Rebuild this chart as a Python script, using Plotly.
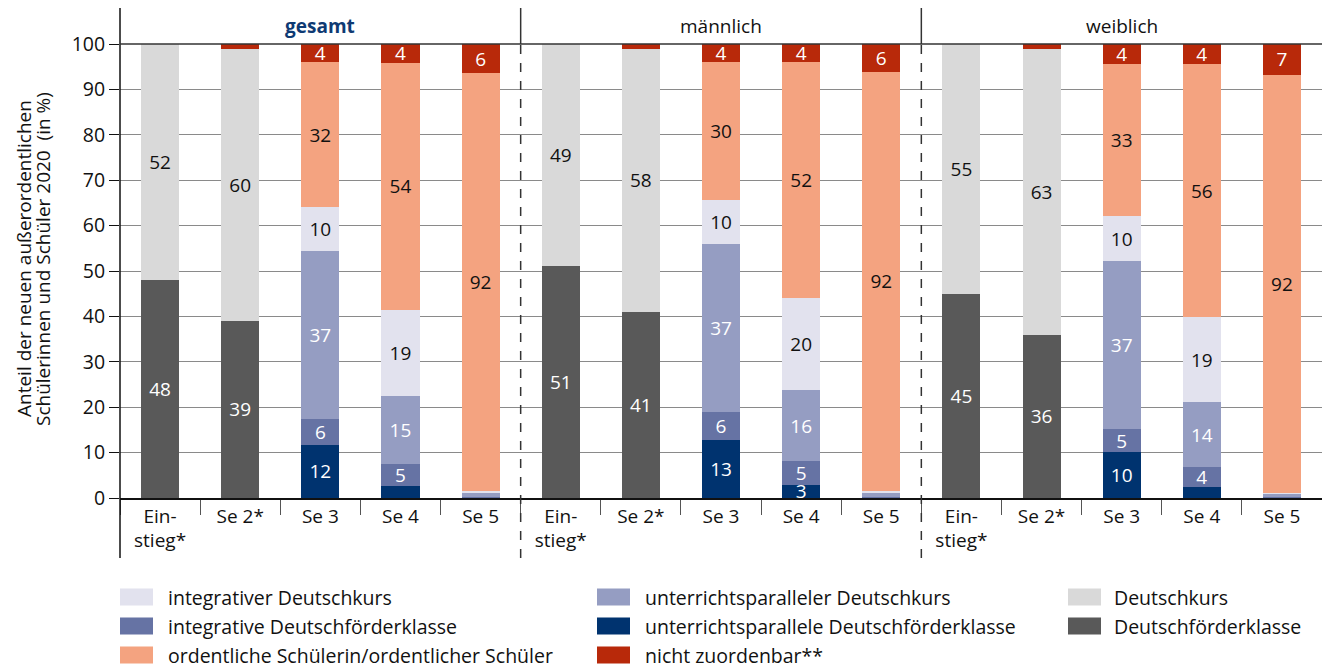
import plotly.graph_objects as go
from plotly.subplots import make_subplots

FONT = "Open Sans"

categories = ["Ein-<br>stieg*", "Se 2*", "Se 3", "Se 4", "Se 5"]
panels = ["gesamt", "männlich", "weiblich"]

# values in % for [gesamt, männlich, weiblich], per category
deutschfoerderklasse = [[48, 39, None, None, None], [51, 41, None, None, None], [45, 36, None, None, None]]
deutschkurs = [[52, 60, None, None, None], [49, 58, None, None, None], [55, 63, None, None, None]]
up_dfk = [[None, None, 11.7, 2.6, 0.1], [None, None, 12.8, 2.9, 0.1], [None, None, 10.1, 2.4, 0.1]]
int_dfk = [[None, None, 5.6, 4.9, 0.1], [None, None, 6.1, 5.2, 0.2], [None, None, 5.1, 4.4, 0.1]]
up_dk = [[None, None, 37.1, 15.0, 1.0], [None, None, 37.0, 15.7, 1.0], [None, None, 36.9, 14.3, 0.7]]
int_dk = [[None, None, 9.7, 19.0, 0.3], [None, None, 9.7, 20.2, 0.3], [None, None, 10.1, 18.7, 0.3]]
ordentlich = [[None, None, 31.9, 54.4, 92.1], [None, None, 30.4, 52.0, 92.3], [None, None, 33.4, 55.8, 92.0]]
nicht_zuordenbar = [[None, 1, 4.0, 4.1, 6.4], [None, 1, 4.0, 4.0, 6.1], [None, 1, 4.4, 4.4, 6.8]]

# stacking order bottom -> top
series = [
    ("Deutschförderklasse", deutschfoerderklasse, "#595959", "white"),
    ("Deutschkurs", deutschkurs, "#d9d9d9", "#111111"),
    ("unterrichtsparallele Deutschförderklasse", up_dfk, "#00336f", "white"),
    ("integrative Deutschförderklasse", int_dfk, "#6673a4", "white"),
    ("unterrichtsparalleler Deutschkurs", up_dk, "#959dc2", "white"),
    ("integrativer Deutschkurs", int_dk, "#e2e2ee", "#111111"),
    ("ordentliche Schülerin/ordentlicher Schüler", ordentlich, "#f4a380", "#111111"),
    ("nicht zuordenbar**", nicht_zuordenbar, "#b8290a", "white"),
]

# legend layout (rows x columns, as in the reference)
legend_rows = [
    ["integrativer Deutschkurs", "unterrichtsparalleler Deutschkurs", "Deutschkurs"],
    ["integrative Deutschförderklasse", "unterrichtsparallele Deutschförderklasse", "Deutschförderklasse"],
    ["ordentliche Schülerin/ordentlicher Schüler", "nicht zuordenbar**"],
]

fig = make_subplots(rows=1, cols=3, shared_yaxes=True, horizontal_spacing=0)

for pi, panel in enumerate(panels):
    for name, data, color, tcolor in series:
        vals = data[pi]
        texts = [("%d" % round(v)) if (v is not None and v >= 2.8) else "" for v in vals]
        fig.add_trace(go.Bar(
            x=categories, y=vals, name=name,
            marker=dict(color=color, line=dict(width=0)),
            text=texts, texttemplate="%{text}", textposition="inside",
            insidetextanchor="middle", textangle=0,
            textfont=dict(color=tcolor, size=19, family=FONT),
            showlegend=False, hoverinfo="skip",
        ), row=1, col=pi + 1)

W, H = 1322, 669
L, R, T, B = 120, 0, 44, 171
PW = W - L - R
PH = H - T - B


def px(x):
    return (x - L) / PW


def py(y):
    return (H - B - y) / PH


for i in range(1, 4):
    fig.update_xaxes(
        row=1, col=i, type="category", range=[-0.5, 4.5],
        tickson="boundaries", ticks="outside", ticklen=15, tickcolor="#555555", tickwidth=1.2,
        showline=True, linecolor="#111111", linewidth=1.5, showgrid=False,
        tickfont=dict(size=19, family=FONT, color="#111111"),
    )
fig.update_yaxes(range=[0, 100], tickvals=list(range(0, 101, 10)), showgrid=True,
                 gridcolor="#8a8a8a", gridwidth=1, zeroline=False, showline=False)
fig.update_yaxes(row=1, col=1, ticks="outside", ticklen=10, tickcolor="#111111", tickwidth=1.2,
                 tickfont=dict(size=19.5, family=FONT, color="#111111"))

shapes = []
# left axis line (extended)
shapes.append(dict(type="line", xref="paper", yref="paper", x0=0, x1=0, y0=py(558), y1=py(8),
                   line=dict(color="#111111", width=1.5)))
# top line at 100
shapes.append(dict(type="line", xref="paper", yref="paper", x0=0, x1=1, y0=1, y1=1,
                   line=dict(color="#333333", width=1.5)))
# panel separators
for xs in (1 / 3, 2 / 3):
    shapes.append(dict(type="line", xref="paper", yref="paper", x0=xs, x1=xs, y0=1, y1=py(8),
                       line=dict(color="#333333", width=1.5)))
    shapes.append(dict(type="line", xref="paper", yref="paper", x0=xs, x1=xs, y0=py(558), y1=1,
                       line=dict(color="#333333", width=1.5, dash="dash")))

annotations = []
# panel titles
for pi, panel in enumerate(panels):
    annotations.append(dict(
        text=("<b>%s</b>" % panel) if pi == 0 else panel,
        xref="paper", yref="paper", x=(pi + 0.5) / 3, y=py(26), xanchor="center", yanchor="middle",
        showarrow=False,
        font=dict(size=19, family=FONT, color="#0e3a73" if pi == 0 else "#111111"),
    ))

# y-axis title (two lines)
annotations.append(dict(text="Anteil der neuen außerordentlichen", xref="paper", yref="paper",
                        x=px(24), y=py(259), textangle=-90, showarrow=False,
                        xanchor="center", yanchor="middle", font=dict(size=19, family=FONT, color="#111111")))
annotations.append(dict(text="Schülerinnen und Schüler 2020  (in %)", xref="paper", yref="paper",
                        x=px(43), y=py(259), textangle=-90, showarrow=False,
                        xanchor="center", yanchor="middle", font=dict(size=19, family=FONT, color="#111111")))

# manual legend
color_of = {s[0]: s[2] for s in series}
col_sw = [120, 597, 1068]
col_tx = [166, 643, 1112]
row_y = [597, 626, 655]
for ri, row in enumerate(legend_rows):
    for ci, name in enumerate(row):
        cy = row_y[ri]
        shapes.append(dict(type="rect", xref="paper", yref="paper",
                           x0=px(col_sw[ci]), x1=px(col_sw[ci] + 33), y0=py(cy + 8.5), y1=py(cy - 8.5),
                           fillcolor=color_of[name], line=dict(width=0)))
        annotations.append(dict(text=name, xref="paper", yref="paper", x=px(col_tx[ci]), y=py(cy),
                                xanchor="left", yanchor="middle", showarrow=False,
                                font=dict(size=19.5, family=FONT, color="#111111")))

fig.update_layout(
    width=W, height=H, margin=dict(l=L, r=R, t=T, b=B),
    barmode="stack", bargap=0.525,
    plot_bgcolor="white", paper_bgcolor="white",
    uniformtext=dict(minsize=19, mode="show"),
    font=dict(family=FONT, color="#111111"),
    shapes=shapes, annotations=annotations,
)

fig.write_html("out.html", config={"displayModeBar": False},
               post_script="document.body.style.margin='0';document.body.style.overflow='hidden';")
